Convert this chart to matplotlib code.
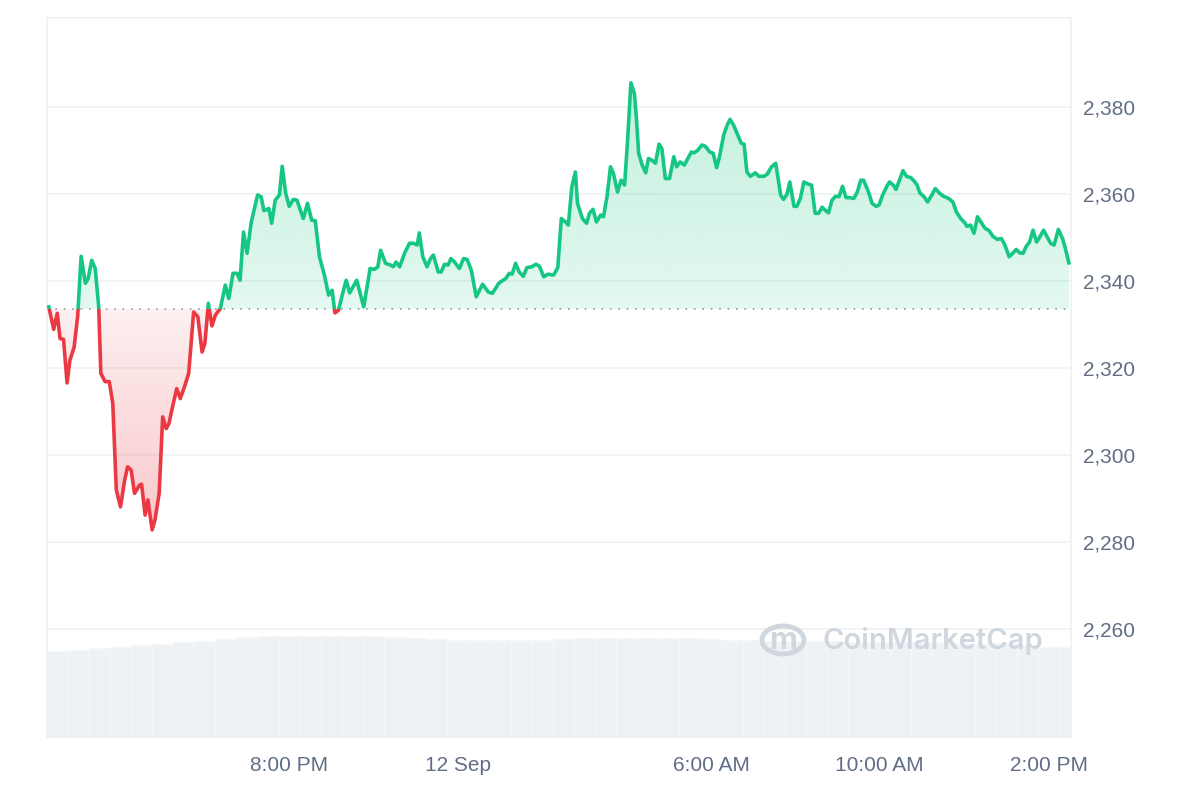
import numpy as np
import matplotlib
matplotlib.use("Agg")
import matplotlib.pyplot as plt
from matplotlib.path import Path
from matplotlib.patches import Rectangle, Circle
from matplotlib.colors import to_rgb

plt.rcParams['font.family'] = ['Liberation Sans', 'DejaVu Sans']

# minutes after 14:00 on 11 Sep, and price (USD)
minutes = [18, 25, 30, 34, 39, 44, 48, 54, 59, 64, 70, 74, 79, 84, 89, 92, 98, 104, 109, 114,
           120, 126, 130, 135, 140, 147, 150, 155, 159, 165, 169, 175, 180, 185, 189, 194, 200, 205, 211, 217,
           224, 230, 236, 240, 245, 250, 255, 262, 269,
           274, 280, 286, 290, 295, 300, 306, 315, 320, 324, 331, 335, 340, 346, 350, 355, 360, 366, 371, 380,
           386, 392, 397, 403, 410, 416, 421, 425, 430, 436, 441, 446, 456, 466, 475, 481, 486, 490, 497, 504,
           508, 512,
           517, 524, 531, 537, 542, 545, 550, 556, 561, 565, 572, 576, 581, 586, 590, 595, 602, 608, 613, 619,
           626, 635, 643, 649, 658, 664, 668, 673, 677, 682, 687, 693, 698, 705, 711, 716, 722, 728, 736, 742,
           747, 753, 757, 762, 767,
           770, 777, 783, 787, 792, 797, 803, 807, 812, 817, 821, 827, 832, 837, 841, 846, 851, 854, 857, 862,
           867, 871, 876, 881, 886, 890, 895, 901, 907, 911, 916, 922, 927, 932, 936, 941, 947, 952, 958, 963,
           968, 972, 978, 983, 987, 992, 998, 1003, 1007, 1011, 1016,
           1023, 1028, 1035, 1040, 1046, 1052, 1059, 1063, 1068, 1072, 1078, 1082, 1087, 1092, 1098, 1103, 1108,
           1113, 1118, 1123, 1127, 1132, 1137, 1142, 1147, 1152, 1158, 1163, 1168, 1173, 1177, 1184, 1189, 1195,
           1199, 1204, 1211, 1214, 1219, 1223, 1228, 1233, 1238, 1244, 1249,
           1253, 1257, 1263, 1268, 1274, 1279, 1285, 1291, 1298, 1304, 1309, 1315, 1321, 1324, 1329, 1334, 1339,
           1345, 1350, 1355, 1361, 1367, 1373, 1378, 1384, 1389, 1394, 1399, 1404, 1408, 1413, 1418, 1423, 1427,
           1433, 1438, 1443, 1448, 1454, 1460, 1464, 1469]

prices = [2334.1, 2328.9, 2332.6, 2326.8, 2326.6, 2316.6, 2321.8, 2324.8, 2331.8, 2345.7,
          2339.5, 2340.6, 2344.8, 2342.9, 2334.1, 2318.8, 2316.9, 2316.9, 2311.9, 2292.0,
          2288.1, 2294.3, 2297.3, 2296.6, 2291.2, 2293.1, 2293.3, 2286.2, 2289.7, 2282.8,
          2285.1, 2291.2, 2308.8, 2306.1, 2307.3, 2311.1, 2315.3, 2313.0, 2315.7, 2318.8,
          2332.9, 2331.8, 2323.7, 2325.7, 2334.9, 2329.7, 2332.2, 2333.7, 2339.1,
          2336.0, 2341.8, 2341.8, 2340.2, 2351.3, 2346.4, 2353.6, 2359.8, 2359.4, 2356.2,
          2356.7, 2353.3, 2358.6, 2359.8, 2366.4, 2360.2, 2357.2, 2358.8, 2358.6, 2354.4,
          2357.9, 2354.0, 2353.9, 2345.6, 2341.4, 2336.8, 2337.9, 2332.7, 2333.3, 2337.2,
          2340.2, 2337.3, 2340.2, 2334.1, 2342.9, 2342.7, 2343.3, 2347.1, 2344.1, 2343.7,
          2343.3, 2344.4,
          2343.3, 2346.4, 2348.7, 2348.7, 2348.3, 2351.1, 2345.6, 2343.3, 2345.2, 2346.0,
          2342.1, 2342.1, 2343.9, 2343.7, 2345.2, 2344.4, 2342.9, 2345.2, 2345.0, 2342.5,
          2336.4, 2339.3, 2337.5, 2337.2, 2339.5, 2340.2, 2340.6, 2341.8, 2341.6, 2344.1,
          2342.1, 2341.1, 2343.1, 2343.3, 2343.9, 2343.4, 2341.0, 2341.6, 2341.4, 2343.1,
          2354.4, 2353.6, 2352.9, 2361.7, 2365.1,
          2357.9, 2354.4, 2353.3, 2355.6, 2356.5, 2353.6, 2355.2, 2354.8, 2359.4, 2366.3,
          2364.8, 2360.5, 2363.2, 2362.1, 2371.7, 2385.6, 2383.1, 2377.0, 2369.4, 2366.7,
          2364.9, 2368.2, 2367.8, 2367.1, 2371.5, 2370.5, 2363.6, 2363.6, 2368.6, 2366.3,
          2367.4, 2366.7, 2368.2, 2369.7, 2369.5, 2370.1, 2371.3, 2371.0, 2369.7, 2369.4,
          2366.1, 2368.6, 2373.6, 2375.9, 2377.2, 2375.9, 2373.6, 2371.7, 2371.5, 2365.1,
          2364.1,
          2364.9, 2364.1, 2364.1, 2364.6, 2366.3, 2367.1, 2359.8, 2358.8, 2360.0, 2362.8,
          2357.2, 2357.2, 2359.0, 2362.8, 2362.3, 2362.1, 2355.6, 2355.6, 2357.0, 2356.2,
          2355.7, 2358.6, 2359.5, 2359.4, 2361.8, 2359.2, 2359.2, 2359.0, 2360.5, 2363.2,
          2363.2, 2360.5, 2357.9, 2357.2, 2357.5, 2359.8, 2362.1, 2362.8, 2362.1, 2361.1,
          2363.2, 2365.4, 2364.1, 2363.8, 2363.0,
          2362.1, 2360.3, 2359.4, 2358.2, 2359.8, 2361.3, 2360.2, 2359.5, 2359.0, 2358.2,
          2355.9, 2354.4, 2353.4, 2352.6, 2352.9, 2351.0, 2354.8, 2353.3, 2352.1, 2351.7,
          2350.3, 2349.6, 2349.8, 2348.3, 2345.6, 2346.4, 2347.3, 2346.5, 2346.4, 2347.9,
          2349.0, 2351.7, 2349.0, 2350.0, 2351.7, 2350.2, 2348.7, 2348.3, 2351.9, 2349.8,
          2347.5, 2344.2]

open_price = 2333.6

# volume, one bar per 30 minutes (arbitrary units)
vol_minutes = [30, 60, 90, 120, 150, 180, 210, 240, 270, 300, 330, 360, 390, 420, 450, 480, 510,
               540, 570, 600, 630, 660, 690, 720, 750, 780, 810, 840, 870, 900, 930, 960, 990,
               1020, 1050, 1080, 1110, 1140, 1170, 1200, 1230, 1260, 1290, 1320, 1350, 1380, 1410,
               1440, 1470]
volumes = [8.6, 8.7, 8.85, 9.0, 9.2, 9.3, 9.5, 9.6, 9.8, 10.0, 10.1, 10.1, 10.1, 10.1, 10.1, 10.05,
           9.95, 9.9, 9.8, 9.7, 9.7, 9.7, 9.65, 9.65, 9.8, 9.85, 9.85, 9.9, 9.9, 9.9, 9.9, 9.8,
           9.7, 9.65, 9.6, 9.6, 9.6, 9.55, 9.5, 9.5, 9.5, 9.45, 9.45, 9.4, 9.4, 9.35, 9.2, 9.0, 9.0]

tick_pos = [360, 600, 960, 1200, 1440]
tick_labels = ["8:00 PM", "12 Sep", "6:00 AM", "10:00 AM", "2:00 PM"]
y_ticks = [2260, 2280, 2300, 2320, 2340, 2360, 2380]

green = "#16c784"
red = "#ea3943"
frame = "#eff2f5"
label_col = "#616e85"

x = np.array(minutes, dtype=float)
y = np.array(prices)
x0, x1 = 15.5, 1472
y0, y1 = 2235.2, 2400.5

fig = plt.figure(figsize=(12, 8), dpi=100)
ax = fig.add_axes([0.0392, 0.0788, 0.8533, 0.8987])
ax2 = ax.twinx()

# volume bars behind the price chart
ax2.bar(vol_minutes, volumes, width=30, color="#eff2f5", edgecolor="#f5f7f9", linewidth=0.6)
ax2.set_ylim(0, 71.9)
ax2.set_yticks([])
for s in ax2.spines.values():
    s.set_visible(False)
ax.set_zorder(ax2.get_zorder() + 1)
ax.patch.set_visible(False)


def gradient_fill(above, color, a_near, a_far, far):
    where = y >= open_price if above else y <= open_price
    coll = ax.fill_between(x, y, open_price, where=where, interpolate=True,
                           facecolor="none", edgecolor="none")
    clip = Path.make_compound_path(*coll.get_paths())
    n = 256
    img = np.zeros((n, 1, 4))
    img[:, 0, :3] = to_rgb(color)
    if above:
        img[:, 0, 3] = np.linspace(a_near, a_far, n)
        ext = [x0, x1, open_price, far]
    else:
        img[:, 0, 3] = np.linspace(a_far, a_near, n)
        ext = [x0, x1, far, open_price]
    im = ax.imshow(img, extent=ext, origin="lower", aspect="auto", zorder=1)
    im.set_clip_path(clip, ax.transData)


gradient_fill(True, green, 0.12, 0.26, 2386)
gradient_fill(False, red, 0.08, 0.28, 2282)

# price line: green above the open, red below
up, = ax.plot(x, y, color=green, lw=2.6, zorder=3, solid_joinstyle="round")
dn, = ax.plot(x, y, color=red, lw=2.6, zorder=3, solid_joinstyle="round")
up.set_clip_path(Rectangle((x0, open_price), x1 - x0, y1 - open_price, transform=ax.transData))
dn.set_clip_path(Rectangle((x0, y0), x1 - x0, open_price - y0, transform=ax.transData))

ax.axhline(open_price, color="#808a9d", lw=1.1, linestyle=(0, (1, 4.5)), zorder=2)

ax.set_xlim(x0, x1)
ax.set_ylim(y0, y1)
ax.yaxis.tick_right()
ax.set_yticks(y_ticks)
ax.set_yticklabels([f"{v:,}" for v in y_ticks])
ax.set_xticks(tick_pos)
ax.set_xticklabels(tick_labels)
ax.tick_params(axis="y", length=0, pad=9, labelsize=15, labelcolor=label_col)
ax.tick_params(axis="x", length=0, pad=14, labelsize=15, labelcolor=label_col)
ax.grid(axis="y", color=frame, lw=1.2)
ax.set_axisbelow(True)
for s in ax.spines.values():
    s.set_color(frame)
    s.set_linewidth(1.2)

# watermark
wm = "#d0d6de"
fig.add_artist(Circle((783 / 1200, 1 - 640 / 800), 21 / 1200, transform=fig.transFigure,
                      fill=False, edgecolor=wm, lw=3.5, zorder=5))
fig.text(783 / 1200, 1 - 641 / 800, "m", color=wm, fontsize=22, fontweight="bold",
         family=["Inter", "DejaVu Sans"], ha="center", va="center", zorder=5)
fig.text(822 / 1200, 1 - 641 / 800, "CoinMarketCap", color=wm, fontsize=21,
         fontweight="semibold", family=["Inter", "DejaVu Sans"], ha="left", va="center", zorder=5)

fig.savefig("out.png", dpi=100, facecolor="white")
